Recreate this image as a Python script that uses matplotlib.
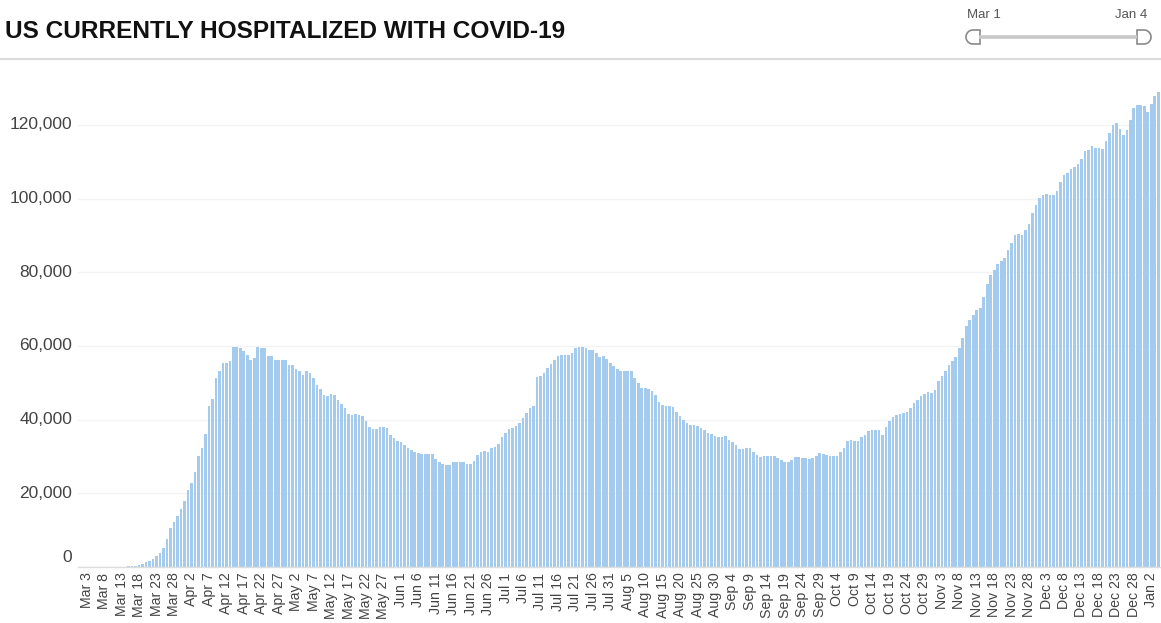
import numpy as np
import pandas as pd
import matplotlib
matplotlib.use("Agg")
import matplotlib.pyplot as plt
from matplotlib.patches import Polygon
from matplotlib.lines import Line2D
from matplotlib.transforms import IdentityTransform, ScaledTranslation

# ---------------- data ----------------
start_date = "2020-03-01"
end_date = "2021-01-04"
dates = pd.date_range(start_date, end_date, freq="D")

hosp_mar = [0, 0, 0, 0, 0, 0, 0, 0, 0, 20,
            30, 40, 60, 100, 150, 250, 325, 500, 800, 1300,
            1700, 2200, 2900, 3800, 5200, 7600, 10700, 12300, 13900, 15800,
            18000]
hosp_apr = [20900, 22900, 25700, 30200, 32200, 36000, 43600, 45600, 51200, 53300,
            55400, 55400, 56000, 59700, 59700, 59400, 58500, 57600, 56300, 56700,
            59600, 59400, 59400, 57300, 57300, 56100, 56100, 56100, 56100, 54900]
hosp_may = [54800, 53800, 53100, 52200, 53100, 52600, 51300, 49500, 48300, 46700,
            46500, 47000, 46700, 45400, 44300, 43100, 41600, 41300, 41600, 41300,
            40900, 39500, 38100, 37400, 37400, 38000, 38000, 37800, 35900, 35000,
            34200]
hosp_jun = [33800, 33200, 32200, 31800, 31300, 30900, 30700, 30700, 30700, 30600,
            29300, 28600, 28000, 27700, 27700, 28400, 28500, 28400, 28400, 27900,
            27900, 28900, 30400, 31300, 31600, 31300, 32200, 32700, 33400, 35200]
hosp_jul = [36300, 37400, 37700, 38300, 39000, 40400, 41800, 43100, 43800, 51500,
            51900, 52600, 54000, 55100, 56300, 57200, 57600, 57600, 57600, 58200,
            59400, 59600, 59600, 59400, 58800, 59000, 58100, 57000, 57300, 56400,
            55400]
hosp_aug = [54600, 53700, 53300, 53300, 53300, 53100, 51300, 49900, 48600, 48500,
            48400, 47700, 46700, 44900, 44000, 43600, 43600, 43400, 42200, 40900,
            39900, 39000, 38600, 38600, 38300, 37700, 37200, 36500, 36100, 35600,
            35400]
hosp_sep = [35400, 35600, 34500, 33800, 33200, 32000, 32000, 32200, 32200, 31100,
            30400, 29800, 30000, 30100, 30100, 30000, 29500, 29100, 28600, 28600,
            29100, 29800, 29800, 29700, 29500, 29300, 29500, 30100, 30900, 30600]
hosp_oct = [30400, 30000, 30000, 30000, 31100, 32200, 34300, 34500, 34300, 34300,
            35400, 35900, 36800, 37200, 37200, 37200, 35900, 38100, 39500, 40600,
            41200, 41500, 41900, 42000, 43100, 44500, 45200, 46300, 47000, 47400,
            47200]
hosp_nov = [48100, 50400, 51900, 53300, 54900, 55800, 57000, 59400, 62100, 65300,
            67100, 68500, 69800, 70300, 73300, 76900, 79300, 80700, 82300, 83000,
            83900, 86000, 88000, 90000, 90500, 90200, 91600, 93200, 96100, 98400]
hosp_dec = [100200, 101000, 101300, 101100, 101100, 102100, 104400, 106300, 107000, 108100,
            108600, 109500, 110800, 112900, 113300, 114400, 113800, 113800, 113500, 115600,
            117700, 120100, 120400, 118900, 117400, 118600, 121300, 124600, 125500, 125500,
            125100]
hosp_jan = [123500, 125800, 127900, 128900]

hospitalized = (hosp_mar + hosp_apr + hosp_may + hosp_jun + hosp_jul + hosp_aug +
                hosp_sep + hosp_oct + hosp_nov + hosp_dec + hosp_jan)
assert len(hospitalized) == len(dates), (len(hospitalized), len(dates))

tick_idx = list(range(2, len(dates), 5))
tick_labels = [f"{dates[i]:%b} {dates[i].day}" for i in tick_idx]

y_ticks = [0, 20000, 40000, 60000, 80000, 100000, 120000]
y_labels = ["0", "20,000", "40,000", "60,000", "80,000", "100,000", "120,000"]

title = "US CURRENTLY HOSPITALIZED WITH COVID-19"
slider_start = "Mar 1"
slider_end = "Jan 4"

# ---------------- figure ----------------
W, H = 1161, 623
plt.rcParams['font.family'] = ['Liberation Sans', 'DejaVu Sans']
fig = plt.figure(figsize=(W / 100, H / 100), dpi=100)
fig.patch.set_facecolor("white")

ax = fig.add_axes([78 / W, 1 - 567 / H, (1160 - 78) / W, (567 - 66) / H])
x = np.arange(len(dates))
ax.bar(x, hospitalized, width=0.76, color="#a4cbee", linewidth=0, zorder=2)
ax.set_xlim(-0.5, len(dates) - 0.5)
ax.set_ylim(0, 136000)

for s in ["top", "right", "left"]:
    ax.spines[s].set_visible(False)
ax.spines["bottom"].set_color("#dddddd")
ax.spines["bottom"].set_linewidth(1.0)

ax.set_yticks(y_ticks)
ax.yaxis.grid(True, color="#f3f3f3", linewidth=1.0, zorder=0)
ax.set_axisbelow(True)
ax.tick_params(axis="y", length=0, labelleft=False)

ax.set_xticks(tick_idx)
ax.set_xticklabels(tick_labels, rotation=90, fontsize=10.2, color="#444444")
ax.tick_params(axis="x", length=0, pad=4)

ytrans = ax.get_yaxis_transform()
for v, lab in zip(y_ticks, y_labels):
    dy = 10 if v == 0 else 0
    t = ytrans + ScaledTranslation(-6 / 100, dy / 100, fig.dpi_scale_trans)
    ax.text(0, v, lab, transform=t, ha="right", va="center",
            fontsize=12.5, color="#444444")

# title
fig.text(5 / W, 1 - 31 / H, title, fontsize=17.6, fontweight="bold",
         color="#111111", ha="left", va="center")

# header separator
fig.add_artist(Line2D([0, 1], [1 - 59 / H, 1 - 59 / H], transform=fig.transFigure,
                      color="#dadada", linewidth=1.5))

# slider widget
def img(xp, yp):
    return (xp, H - yp)

fig.add_artist(Line2D([979, 1137], [H - 37, H - 37], transform=IdentityTransform(),
                      color="#c8c8c8", linewidth=2.6, solid_capstyle="butt"))

theta = np.linspace(np.pi / 2, 3 * np.pi / 2, 30)
left_pts = [img(980, 30)] + [img(973 + 7 * np.cos(t), 37 - 7 * np.sin(t)) for t in theta] + [img(980, 44)]
right_pts = [img(1137, 30)] + [img(1144 - 7 * np.cos(t), 37 - 7 * np.sin(t)) for t in theta] + [img(1137, 44)]
for pts in (left_pts, right_pts):
    fig.add_artist(Polygon(pts, closed=True, transform=IdentityTransform(),
                           facecolor="white", edgecolor="#8a8a8a", linewidth=1.2))

fig.text(984 / W, 1 - 15 / H, slider_start, fontsize=9.5, color="#555555",
         ha="center", va="center")
fig.text(1131 / W, 1 - 15 / H, slider_end, fontsize=9.5, color="#555555",
         ha="center", va="center")

fig.savefig("out.png", dpi=100, facecolor="white")
